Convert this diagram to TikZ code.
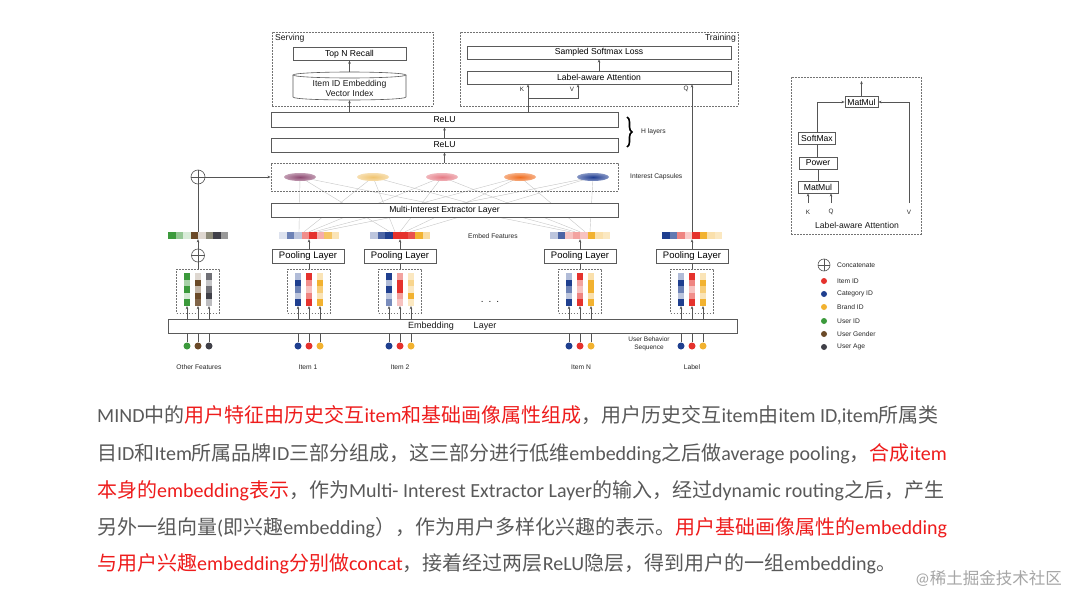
\documentclass[tikz,border=0pt]{standalone}
\usepackage{fontspec}
\setmainfont{Carlito}
\newfontfamily\cjk{Noto Sans CJK SC}
\newfontfamily\dg{Liberation Sans}
\usetikzlibrary{arrows.meta,shapes.geometric,decorations.pathreplacing,calc}
\pgfdeclarelayer{back}
\pgfdeclarelayer{bg}
\pgfsetlayers{back,bg,main}
\definecolor{bord}{HTML}{5A5A5A}
\definecolor{lncol}{HTML}{555555}
\definecolor{cblue}{HTML}{1F3F8F}
\definecolor{cred}{HTML}{E5322D}
\definecolor{cyel}{HTML}{F2B230}
\definecolor{cgreen}{HTML}{3C9A3C}
\definecolor{cbrown}{HTML}{6B4A28}
\definecolor{cdark}{HTML}{404048}
\definecolor{colive}{HTML}{8C8A78}
\definecolor{tgray}{HTML}{595959}
\definecolor{tred}{HTML}{EE1C1C}
\definecolor{capa}{HTML}{8E4A72}
\definecolor{capb}{HTML}{F0C470}
\definecolor{capc}{HTML}{E57A84}
\definecolor{capd}{HTML}{F06E20}
\definecolor{cape}{HTML}{1E3C92}
\newcommand\zh[1]{{\cjk #1}}
\newcommand\embcol[3]{\foreach \tn [count=\ii from 0] in {#3}{\fill[#2!\tn!white] ({#1-3.25},{273+\ii*6.6}) rectangle ++(6.5,6.6);}}
\newcommand\featbar[2]{\foreach \fc [count=\ii from 0] in {#2}{\fill[\fc] ({#1-30+\ii*7.5},232) rectangle ++(7.5,7);}}
\tikzset{
  box/.style={draw=bord, line width=0.6pt, fill=white, inner sep=0pt, font=\dg\fontsize{8.6}{10}\selectfont},
  poolbox/.style={box, font=\dg\fontsize{9.5}{11}\selectfont, minimum width=72pt, minimum height=13.5pt},
  dbox/.style={draw=bord!85, dash pattern=on 1.6pt off 1.4pt, line width=0.6pt, inner sep=0pt},
  arr/.style={draw=lncol, line width=0.5pt, -{Stealth[length=3.2pt,width=2.6pt]}},
  lnn/.style={draw=lncol, line width=0.5pt},
  lab/.style={font=\dg\fontsize{6.7}{8}\selectfont, text=black!85, inner sep=0pt},
  labk/.style={font=\dg\fontsize{6.3}{7}\selectfont, text=black!85, inner sep=0pt},
  labn/.style={font=\dg\fontsize{8.6}{10}\selectfont, text=black!90, inner sep=0pt},
  fan/.style={draw=black!22, line width=0.4pt},
  capsule/.style={ellipse, inner sep=0pt, minimum width=32pt, minimum height=8pt},
  dot/.style={circle, inner sep=0pt, minimum size=7pt},
  ldot/.style={circle, inner sep=0pt, minimum size=6pt},
  concat/.style={circle, draw=lncol, line width=0.6pt, inner sep=0pt, fill=white},
  para/.style={anchor=base west, inner sep=0pt, font=\fontsize{20}{24}\selectfont},
}
\begin{document}
\begin{tikzpicture}[x=1pt,y=-1pt]
\useasboundingbox (0,0) rectangle (1080,608);
\begin{pgfonlayer}{back}
\fill[white] (0,0) rectangle (1080,608);
\end{pgfonlayer}

% ---------- Serving ----------
\node[dbox, minimum width=161pt, minimum height=74pt] (serv) at (352.5,69) {};
\node[labn, anchor=north west] (servt) at (275,34) {Serving};
\node[box, minimum width=113pt, minimum height=12.5pt] (topn) at (349.5,54) {Top N Recall};
\node[inner sep=0pt, minimum width=113pt, minimum height=28pt] (cyl) at (349.5,86) {};
\draw[bord, line width=0.6pt, fill=white] (293,75) -- (293,97) .. controls (293,101) and (406,101) .. (406,97) -- (406,75);
\draw[bord, line width=0.6pt, fill=white] (349.5,75) ellipse [x radius=56.5, y radius=3];
\node[labn, align=center, font=\dg\fontsize{8.6}{10}\selectfont] (cylt) at (349.5,88.5) {Item ID Embedding\\Vector Index};
\draw[arr] (cyl.north) -- (topn.south);

% ---------- Training ----------
\node[dbox, minimum width=278pt, minimum height=74pt] (train) at (599,69) {};
\node[labn, anchor=north east] (traint) at (736,34) {Training};
\node[box, minimum width=264pt, minimum height=13pt] (ssl) at (599,52.5) {Sampled Softmax Loss};
\node[box, minimum width=264pt, minimum height=13pt] (laa) at (599,77.5) {Label-aware Attention};
\draw[arr] (laa) -- (ssl);

% ---------- ReLU ----------
\node[box, minimum width=347pt, minimum height=15pt] (relu2) at (444.5,119.5) {ReLU};
\node[box, minimum width=347pt, minimum height=14pt] (relu1) at (444.5,145) {ReLU};
\draw[arr] (relu1) -- (relu2);
\draw[arr] (relu2.north -| cyl.south) -- (cyl.south);
\coordinate (kx) at (528,0);
\coordinate (vx) at (578,0);
\coordinate (kv) at (528,98);
\draw[arr] (kx |- relu2.north) -- (kx |- laa.south);
\draw[arr] (kv) -| (vx |- laa.south);
\node[labk] (kl) at (522,89) {K};
\node[labk] (vl) at (572,89) {V};
\node[labk] (ql) at (686,89) {Q};
\draw[decorate, decoration={brace, amplitude=5pt}, line width=1.6pt] (627,117) coordinate (bra) -- (627,147) coordinate (brb);
\node[lab, anchor=west] (hl) at (641,132) {H layers};

% ---------- Capsules ----------
\node[dbox, minimum width=347pt, minimum height=28pt] (caps) at (444.5,177) {};
\draw[arr] (caps.north) -- (relu1.south);
\node[lab, anchor=west] (capl) at (630,177) {Interest Capsules};
\node[capsule, shade, inner color=capa, outer color=capa!55!white] (c1) at (300,177) {};
\node[capsule, shade, inner color=capb, outer color=capb!55!white] (c2) at (373,177) {};
\node[capsule, shade, inner color=capc, outer color=capc!55!white] (c3) at (442,177) {};
\node[capsule, shade, inner color=capd, outer color=capd!55!white] (c4) at (520,177) {};
\node[capsule, shade, inner color=cape, outer color=cape!55!white] (c5) at (593,177) {};

% ---------- Embed feature bars ----------
\node[inner sep=0pt, minimum width=60pt, minimum height=7pt] (ob) at (198,235.5) {};
\node[inner sep=0pt, minimum width=60pt, minimum height=7pt] (b1) at (309,235.5) {};
\node[inner sep=0pt, minimum width=60pt, minimum height=7pt] (b2) at (400,235.5) {};
\node[inner sep=0pt, minimum width=60pt, minimum height=7pt] (bn) at (580,235.5) {};
\node[inner sep=0pt, minimum width=60pt, minimum height=7pt] (bl) at (692,235.5) {};
\featbar{198}{cgreen,cgreen!55!white,cgreen!20!white,cbrown,cbrown!22!white,colive,cdark,black!40!white}
\featbar{309}{cblue!15!white,cblue!65!white,cblue!30!white,cred!55!white,cred,cred!40!white,cyel!75!white,cyel!35!white}
\featbar{400}{cblue!30!white,cblue!80!white,cblue,cred,cred,cred!85!white,cyel,cyel!45!white}
\featbar{580}{cblue!30!white,cblue!80!white,cred!30!white,cred!45!white,cred!30!white,cyel,cyel!40!white,cyel!30!white}
\featbar{692}{cblue,cblue!70!white,cred!60!white,cred!25!white,cred,cyel,cyel!40!white,cyel!30!white}
\node[lab] (efl) at (493,236) {Embed Features};

\begin{pgfonlayer}{bg}
\foreach \cp [count=\k] in {c1,c2,c3,c4,c5}{
  \foreach \br in {b1,b2,bn}{
    \draw[fan] (\cp.center) -- ([xshift={(\k-3)*5pt}]\br.north);
  }
}
\end{pgfonlayer}

\node[box, minimum width=347pt, minimum height=14pt] (mie) at (444.5,210) {Multi-Interest Extractor Layer};
\draw[arr] (bl.north) -- (bl.north |- laa.south);

% ---------- concat ----------
\node[concat, minimum size=14pt] (cc1) at (198,177) {};
\draw[lnn] (cc1.north) -- (cc1.south) (cc1.west) -- (cc1.east);
\draw[arr] (cc1.east) -- (caps.west);
\draw[lnn] (ob.north) -- (cc1.south);
\node[concat, minimum size=13pt] (cc2) at (198,255.5) {};
\draw[lnn] (cc2.north) -- (cc2.south) (cc2.west) -- (cc2.east);
\draw[arr] (cc2.north) -- (ob.south);

% ---------- pooling ----------
\node[poolbox] (p1) at (308,256.5) {Pooling Layer};
\node[poolbox] (p2) at (400,256.5) {Pooling Layer};
\node[poolbox] (pn) at (580,256.5) {Pooling Layer};
\node[poolbox] (pl) at (692,256.5) {Pooling Layer};
\draw[arr] (p1.north -| b1.south) -- (b1.south);
\draw[arr] (p2.north) -- (b2.south);
\draw[arr] (pn.north) -- (bn.south);
\draw[arr] (pl.north) -- (bl.south);

% ---------- embedding columns ----------
\node[dbox, minimum width=43pt, minimum height=44pt] (od) at (198,291) {};
\node[dbox, minimum width=43pt, minimum height=44pt] (d1) at (309,291) {};
\node[dbox, minimum width=43pt, minimum height=44pt] (d2) at (400,291) {};
\node[dbox, minimum width=43pt, minimum height=44pt] (dn) at (580,291) {};
\node[dbox, minimum width=43pt, minimum height=44pt] (dl) at (692,291) {};
\draw[lnn] (od.north) -- (cc2.south);
\draw[lnn] (d1.north) -- (d1.north |- p1.south);
\draw[lnn] (d2.north) -- (p2.south);
\draw[lnn] (dn.north) -- (pn.south);
\draw[lnn] (dl.north) -- (pl.south);
\embcol{187}{cgreen}{100,45,100,22,100}
\embcol{198}{cbrown}{22,100,40,100,85}
\embcol{209}{cdark}{75,30,75,100,35}
\embcol{298}{cblue}{35,100,65,30,100}
\embcol{309}{cred}{100,55,30,60,100}
\embcol{320}{cyel}{35,100,65,35,100}
\embcol{389}{cblue}{100,35,100,30,60}
\embcol{400}{cred}{45,100,100,45,30}
\embcol{411}{cyel}{30,55,30,100,30}
\embcol{569}{cblue}{35,100,65,30,100}
\embcol{580}{cred}{100,45,30,60,100}
\embcol{591}{cyel}{40,100,100,40,100}
\embcol{681}{cblue}{35,100,65,30,100}
\embcol{692}{cred}{100,60,30,55,100}
\embcol{703}{cyel}{35,100,65,35,100}
\node[labn, font=\dg\fontsize{10}{10}\selectfont] (dots) at (490,302) {.\hspace{5pt}.\hspace{5pt}.};

% ---------- embedding layer ----------
\node[box, minimum width=569pt, minimum height=14pt] (emb) at (452.5,326) {};
\node[labn, font=\dg\fontsize{9}{10}\selectfont] (embt1) at (431,326) {Embedding};
\node[labn, font=\dg\fontsize{9}{10}\selectfont] (embt2) at (485,326) {Layer};
\foreach \x in {187,198,209,298,309,320,389,400,411,569,580,591,681,692,703}{
  \coordinate (ct\x) at (\x,306);
  \draw[arr] (ct\x |- emb.north) -- (ct\x);
}
\foreach \nm/\x/\col in {o1/187/cgreen,o2/198/cbrown,o3/209/cdark,
  a1/298/cblue,a2/309/cred,a3/320/cyel,
  e1/389/cblue,e2/400/cred,e3/411/cyel,
  n1/569/cblue,n2/580/cred,n3/591/cyel,
  l1/681/cblue,l2/692/cred,l3/703/cyel}{
  \node[dot, fill=\col] (\nm) at (\x,346) {};
  \draw[lnn] (\nm) -- (\nm |- emb.south);
}
\node[lab] (tof) at (199,367) {Other Features};
\node[lab] (ti1) at (308,367) {Item 1};
\node[lab] (ti2) at (400,367) {Item 2};
\node[lab] (tin) at (581,367) {Item N};
\node[lab] (tlb) at (692,367) {Label};
\node[lab, align=center, font=\dg\fontsize{6.5}{8}\selectfont] (ubs) at (649,344) {User Behavior\\Sequence};

% ---------- Label-aware attention detail ----------
\node[dbox, minimum width=130pt, minimum height=157pt] (att) at (856,155.5) {};
\node[box, minimum width=33pt, minimum height=11pt] (mm2) at (861.5,102) {MatMul};
\node[box, minimum width=37pt, minimum height=11.5pt] (sm) at (817,138.5) {SoftMax};
\node[box, minimum width=38pt, minimum height=12pt] (pw) at (818,163) {Power};
\node[box, minimum width=40pt, minimum height=12pt] (mm1) at (818,187) {MatMul};
\coordinate (atop) at (861.5,81);
\draw[arr] (mm2.north) -- (atop);
\draw[arr] (sm.north) |- (mm2.west);
\coordinate (vb) at (909,203);
\draw[arr] (vb) |- (mm2.east);
\draw[lnn] (sm.south) -- (sm.south |- pw.north);
\draw[lnn] (pw.south) -- (pw.south |- mm1.north);
\coordinate (kb) at (808,203);
\coordinate (qb) at (831,203);
\draw[arr] (kb) -- (kb |- mm1.south);
\draw[arr] (qb) -- (qb |- mm1.south);
\node[labk] (akl) at (808,212) {K};
\node[labk] (aql) at (831,212) {Q};
\node[labk] (avl) at (909,212) {V};
\node[labn] (attl) at (857,225) {Label-aware Attention};

% ---------- legend ----------
\node[concat, minimum size=12pt] (lgc) at (824,265) {};
\draw[lnn, line width=0.6pt] (lgc.north) -- (lgc.south) (lgc.west) -- (lgc.east);
\node[lab, anchor=west] (lgct) at (837,265) {Concatenate};
\foreach \nm/\y/\col/\txt in {lg1/281/cred/Item ID,lg2/294/cblue/Category ID,lg3/307/cyel/Brand ID,lg4/321/cgreen/User ID,lg5/334/cbrown/User Gender,lg6/347/cdark/User Age}{
  \node[ldot, fill=\col] (\nm) at (824,\y) {};
  \node[lab, anchor=west] (\nm t) at (837,\y) {\txt};
}

% ---------- paragraph ----------
\node[para, text=tgray] (t1) at (97,422) {MIND\zh{中的}\textcolor{tred}{\zh{用户特征由历史交互}item\zh{和基础画像属性组成}}\zh{，用户历史交互}item\zh{由}item ID,item\zh{所属类}};
\node[para, text=tgray] (t2) at (97,460) {\zh{目}ID\zh{和}Item\zh{所属品牌}ID\zh{三部分组成，这三部分进行低维}embedding\zh{之后做}average pooling\zh{，}\textcolor{tred}{\zh{合成}item}};
\node[para, text=tgray] (t3) at (97,497) {\textcolor{tred}{\zh{本身的}embedding\zh{表示}}\zh{，作为}Multi- Interest Extractor Layer\zh{的输入，经过}dynamic routing\zh{之后，产生}};
\node[para, text=tgray] (t4) at (97,534) {\zh{另外一组向量}(\zh{即兴趣}embedding\zh{），作为用户多样化兴趣的表示。}\textcolor{tred}{\zh{用户基础画像属性的}embedding}};
\node[para, text=tgray] (t5) at (97,570) {\textcolor{tred}{\zh{与用户兴趣}embedding\zh{分别做}concat}\zh{，接着经过两层}ReLU\zh{隐层，得到用户的一组}embedding\zh{。}};
\node[anchor=base east, inner sep=0pt, text=black!35, font=\fontsize{16.5}{18}\selectfont] (wm) at (1062,584) {@\zh{稀土掘金技术社区}};
\end{tikzpicture}
\end{document}
